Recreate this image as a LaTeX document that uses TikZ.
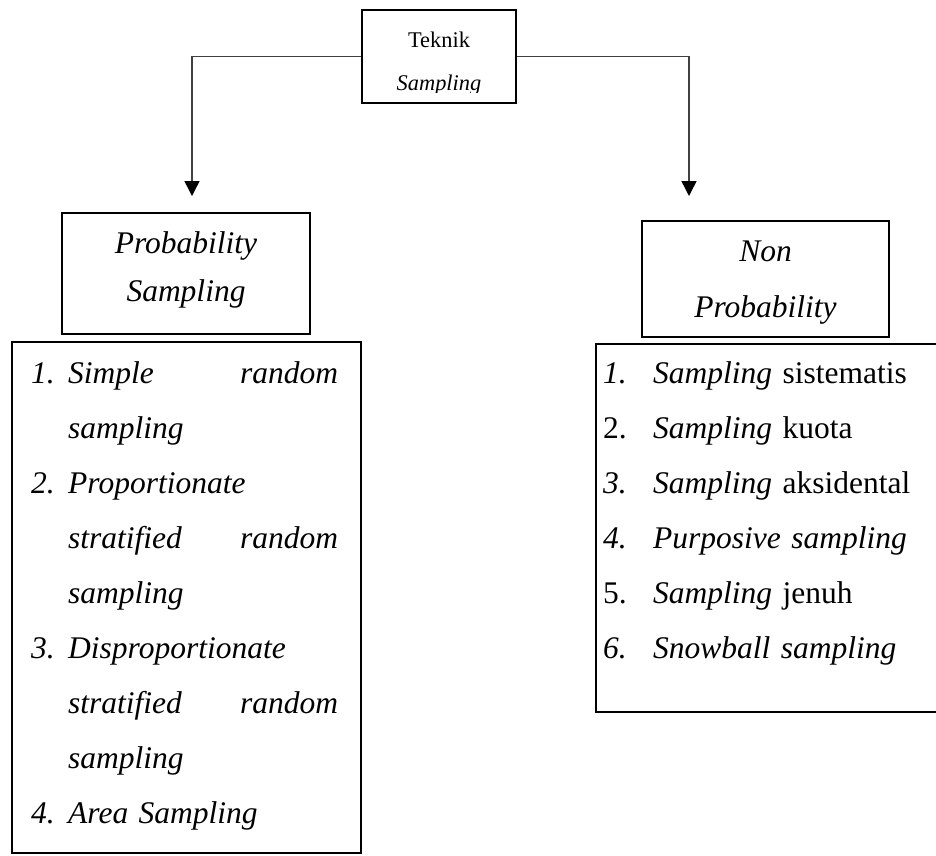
\documentclass[tikz,border=0pt]{standalone}
\usepackage{fontspec}
\setmainfont{Liberation Serif}
\usetikzlibrary{arrows.meta}
\newcommand{\topfont}{\fontsize{22.4}{43}\selectfont}
\newcommand{\bigfont}{\fontsize{31.5}{55}\selectfont}
\newcommand{\listno}[2]{\makebox[#1][l]{#2}}
\tikzset{
  box/.style={draw=black,line width=2pt,inner sep=0pt},
  titlebox/.style={box,line width=2.5pt},
  txt/.style={inner sep=0pt,align=center},
  listtxt/.style={inner sep=0pt,anchor=north west,align=left,font=\bigfont},
  link/.style={draw=black!75,line width=1.4pt,-{Triangle[width=15pt,length=15pt,black]}}
}
\begin{document}
\begin{tikzpicture}[x=1pt,y=-1pt]
\useasboundingbox (0,0) rectangle (936,855);
\clip (0,0) rectangle (936,855);

% top box
\node[box,minimum width=154pt,minimum height=93pt] (teknik) at (439,56.5) {};
\begin{scope}
\clip (362,10) rectangle (516,92);
\node[txt,anchor=north,font=\topfont] (teknik text) at (439,31.7) {Teknik\\\textit{Sampling}};
\end{scope}

% title boxes
\node[titlebox,minimum width=248pt,minimum height=121pt] (prob) at (186,273.5) {};
\node[txt,anchor=north,font=\fontsize{31.5}{48}\selectfont] (prob text) at (186,231.5) {\textit{Probability}\\\textit{Sampling}};

\node[titlebox,minimum width=247pt,minimum height=116pt] (nonprob) at (765.5,279) {};
\node[txt,anchor=north,font=\fontsize{31.5}{56}\selectfont] (nonprob text) at (765.5,241.1) {\textit{Non}\\\textit{Probability}};

% list boxes
\node[box,minimum width=349pt,minimum height=511pt] (problist) at (186.5,597.5) {};
\node[listtxt,text width=307pt] (problist text) at (31,361.5) {%
\listno{37pt}{\textit{1.}}\textit{Simple}\hfill\textit{random}\\
\listno{37pt}{}\textit{sampling}\\
\listno{37pt}{\textit{2.}}\textit{Proportionate}\\
\listno{37pt}{}\textit{stratified}\hfill\textit{random}\\
\listno{37pt}{}\textit{sampling}\\
\listno{37pt}{\textit{3.}}\textit{Disproportionate}\\
\listno{37pt}{}\textit{stratified}\hfill\textit{random}\\
\listno{37pt}{}\textit{sampling}\\
\listno{37pt}{\textit{4.}}\textit{Area Sampling}};

\node[box,minimum width=364pt,minimum height=368pt] (nonproblist) at (778,528) {};
\node[listtxt,text width=320pt] (nonproblist text) at (603,361.5) {%
\listno{50pt}{\textit{1.}}\textit{Sampling} sistematis\\
\listno{50pt}{2.}\textit{Sampling} kuota\\
\listno{50pt}{\textit{3.}}\textit{Sampling} aksidental\\
\listno{50pt}{\textit{4.}}\textit{Purposive sampling}\\
\listno{50pt}{5.}\textit{Sampling} jenuh\\
\listno{50pt}{\textit{6.}}\textit{Snowball sampling}};

% arrows
\coordinate (prob tip) at (192,196);
\coordinate (nonprob tip) at (689,196);
\draw[link] (teknik.west) -| (prob tip);
\draw[link] (teknik.east) -| (nonprob tip);
\end{tikzpicture}
\end{document}
